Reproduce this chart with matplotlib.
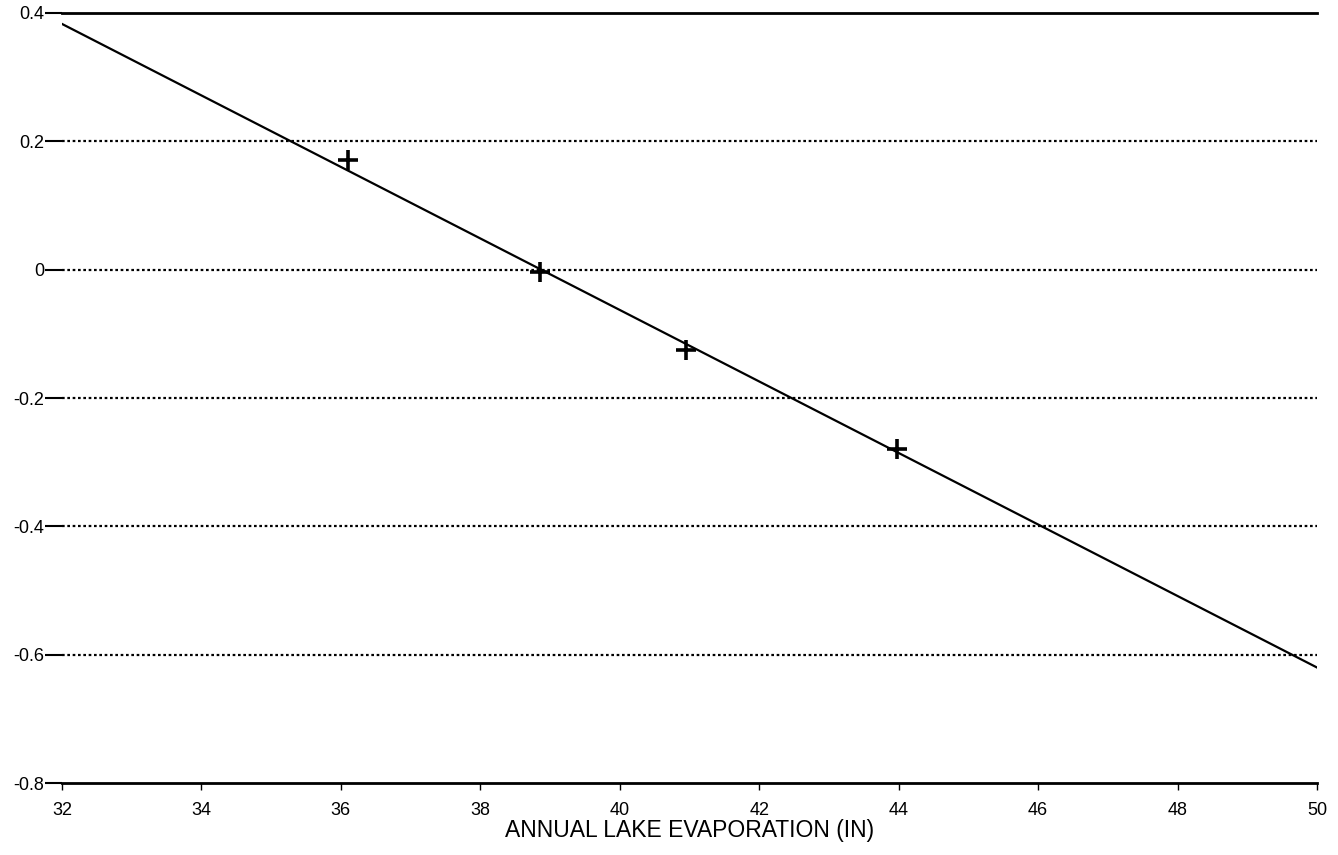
""" Annual lake evaporation vs. response, with fitted line. """

import numpy as np
from matplotlib import pyplot as plt

plt.rcParams['font.family'] = ['Liberation Sans', 'DejaVu Sans']
plt.rcParams['axes.unicode_minus'] = False

# Observed points
evap = [36.1, 38.85, 40.95, 43.98]
resp = [0.171, -0.004, -0.125, -0.28]

# Fitted line end points
fit_x = [32., 50.]
fit_y = [0.383, -0.62]

xticks = [32, 34, 36, 38, 40, 42, 44, 46, 48, 50]
yticks = [0.4, 0.2, 0., -0.2, -0.4, -0.6, -0.8]
ytick_lbls = ['0.4', '0.2', '0', '-0.2', '-0.4', '-0.6', '-0.8']

fig = plt.figure(figsize=(13.38, 8.55), dpi=100)
ax = fig.add_axes([0.0463, 0.0842, 0.9380, 0.9006])

# Dotted grid
for yv in yticks[1:-1]:
    ax.axhline(yv, color='black', ls=(0, (1.2, 1.2)), lw=1.6, zorder=1)

ax.plot(fit_x, fit_y, color='black', lw=1.6, zorder=2)
ax.plot(evap, resp, ls='none', marker='+', ms=15, mew=2.6,
        color='black', zorder=3)

# Limits
ax.set_xlim(32, 50)
ax.set_ylim(-0.8, 0.4)
ax.set_xticks(xticks)
ax.set_yticks(yticks)
ax.set_yticklabels(ytick_lbls)

for side in ['left', 'right']:
    ax.spines[side].set_visible(False)
for side in ['top', 'bottom']:
    ax.spines[side].set_linewidth(2.)

ax.tick_params(axis='x', direction='out', length=5, width=1.,
               labelsize=13, pad=9)
ax.tick_params(axis='y', direction='out', length=12, width=1.5,
               labelsize=13, pad=1)

ax.set_xlabel('ANNUAL LAKE EVAPORATION (IN)', fontsize=16.5, labelpad=0)

plt.savefig('out.png', dpi=100)
